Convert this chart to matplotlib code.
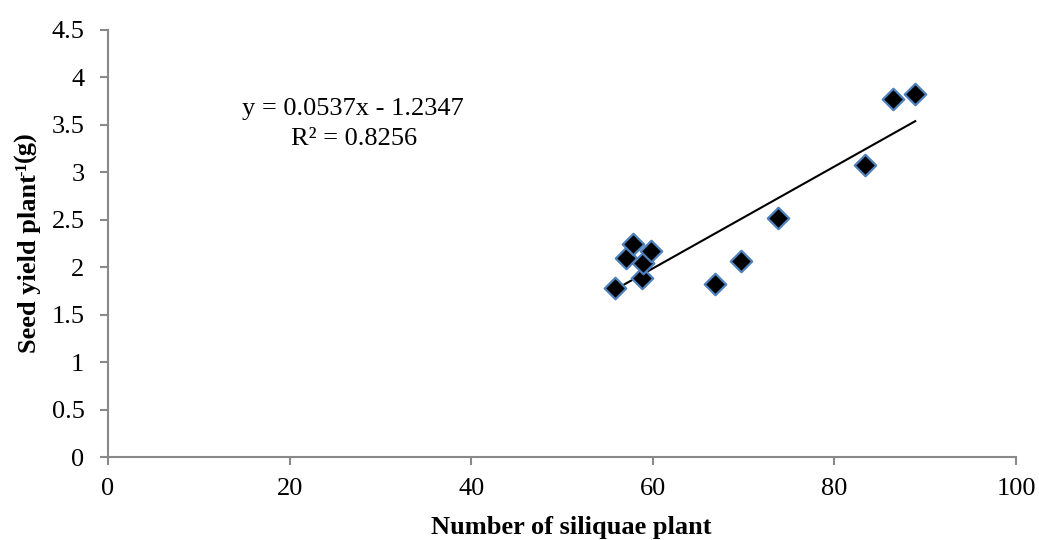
import numpy as np
import matplotlib
matplotlib.use("Agg")
from matplotlib import pyplot as plt

# siliquae per plant vs seed yield per plant
siliquae = [55.8, 57.1, 57.8, 58.8, 58.9, 59.8, 66.8, 69.7, 73.8, 83.4, 86.5, 88.9]
seed_yield = [1.78, 2.10, 2.24, 1.89, 2.04, 2.17, 1.82, 2.07, 2.52, 3.08, 3.77, 3.83]

# linear trend as reported on the chart
slope, intercept = 0.0537, -1.2347
r2 = 0.8256

plt.rcParams['font.family'] = ['Liberation Serif', 'DejaVu Serif']

W, H = 1039, 540
fig = plt.figure(figsize=(W / 100, H / 100), dpi=100)
ax = fig.add_axes([108 / W, 1 - 457 / H, 908 / W, 427 / H])

ax.scatter(siliquae, seed_yield, marker='D', s=120, c='black',
           edgecolors='#4f81bd', linewidths=1.6, zorder=3)

xs = np.array([min(siliquae), max(siliquae)])
ax.plot(xs, slope * xs + intercept, color='black', lw=1.5, zorder=2)

# trendline equation
fig.text(353 / W, 1 - 115 / H, "y = %.4fx - %.4f" % (slope, -intercept),
         ha='center', va='baseline', fontsize=19)
fig.text(354 / W, 1 - 145 / H, "R² = %.4f" % r2,
         ha='center', va='baseline', fontsize=19)

ax.set_xlim(0, 100)
ax.set_ylim(0, 4.5)
ax.set_xticks(range(0, 101, 20))
ax.set_yticks(np.arange(0, 4.51, 0.5))
ax.set_yticklabels(['0', '0.5', '1', '1.5', '2', '2.5', '3', '3.5', '4', '4.5'])

for side in ['top', 'right']:
    ax.spines[side].set_visible(False)
for side in ['left', 'bottom']:
    ax.spines[side].set_color('#898989')
    ax.spines[side].set_linewidth(1.5)
ax.tick_params(axis='both', which='major', labelsize=19, color='#898989',
               length=6, width=1.5, direction='out')
ax.tick_params(axis='y', pad=11)
ax.tick_params(axis='x', pad=9)

# axis titles
fig.text(571 / W, 1 - 534 / H, "Number of siliquae plant", fontsize=19,
         fontweight='bold', ha='center', va='baseline')
fig.text(30 / W, 1 - 353 / H, "Seed yield plant", fontsize=19,
         fontweight='bold', rotation=90, ha='center', va='bottom')
fig.text(22 / W, 1 - 176 / H, "-1", fontsize=12, fontweight='bold',
         rotation=90, ha='center', va='bottom')
fig.text(25 / W, 1 - 162 / H, "(g)", fontsize=19, fontweight='bold',
         rotation=90, ha='center', va='bottom')

fig.savefig("out.png", dpi=100)
